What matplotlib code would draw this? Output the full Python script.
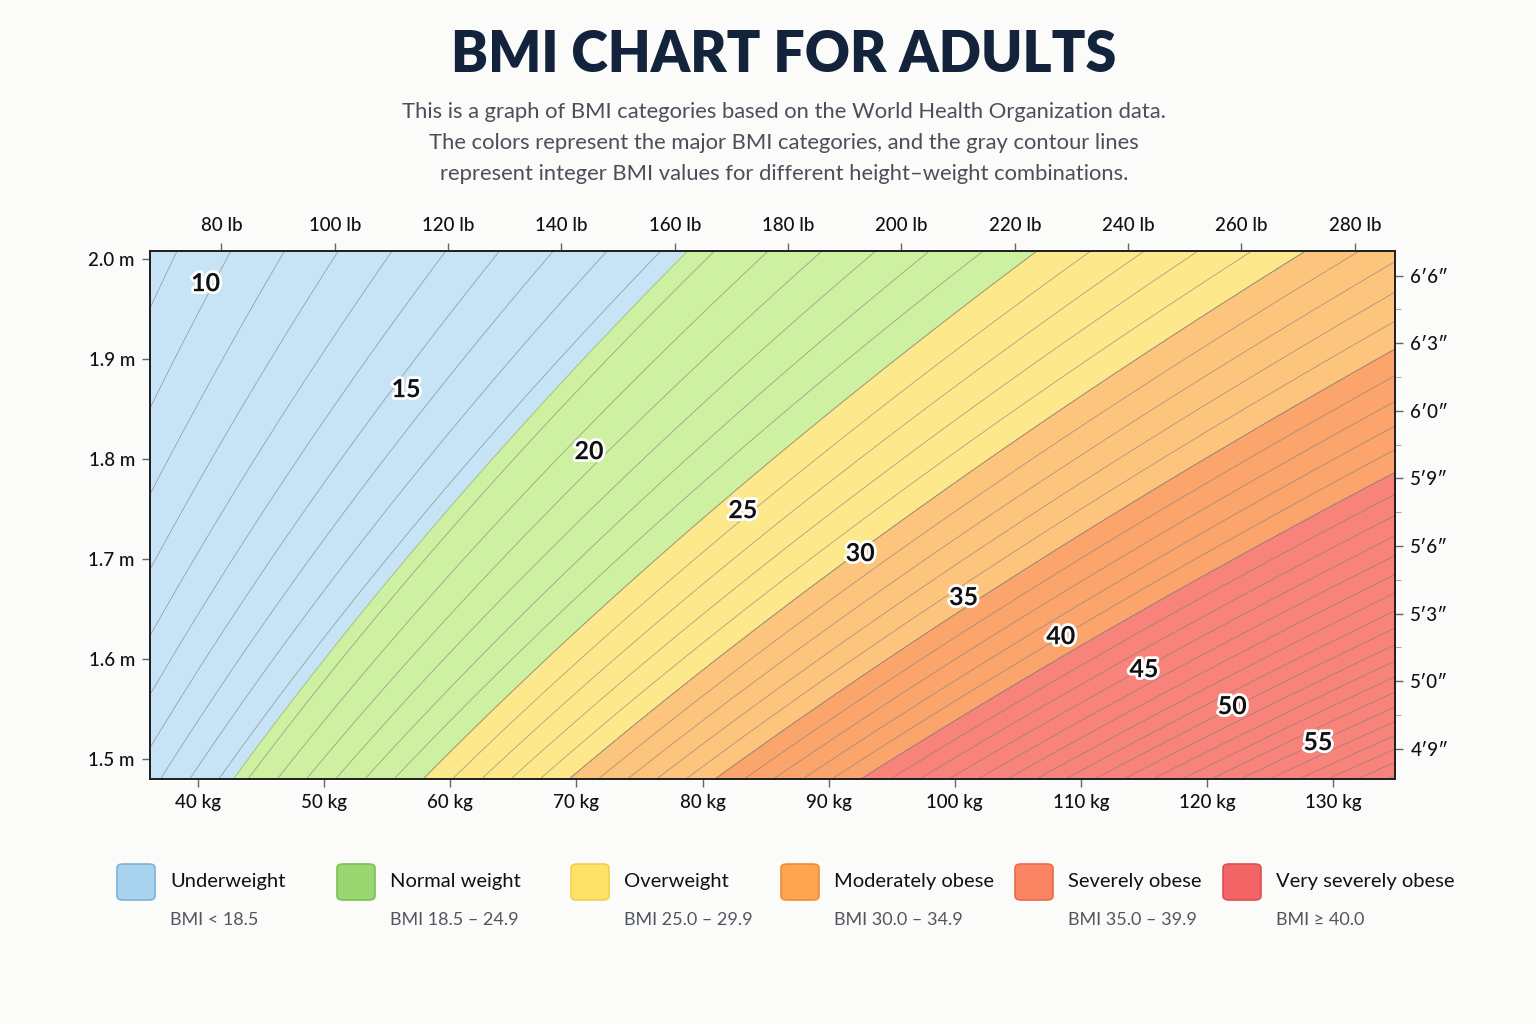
import numpy as np
import matplotlib
matplotlib.use("Agg")
import matplotlib.pyplot as plt
import matplotlib.patheffects as pe
from matplotlib.patches import FancyBboxPatch
from matplotlib.ticker import MultipleLocator

plt.rcParams['font.family'] = ['Lato', 'DejaVu Sans']

# categories (WHO) and colours
cat_names = ["Underweight", "Normal weight", "Overweight", "Moderately obese",
             "Severely obese", "Very severely obese"]
cat_ranges = ["BMI < 18.5", "BMI 18.5 – 24.9", "BMI 25.0 – 29.9", "BMI 30.0 – 34.9",
              "BMI 35.0 – 39.9", "BMI ≥ 40.0"]
cat_bounds = [0, 18.5, 25, 30, 35, 40, 200]
fill_colors = ["#c6e4f6", "#cdf1a1", "#fde98b", "#fdc47e", "#fba56d", "#f8837a"]
swatch_colors = ["#a9d2f0", "#9bd770", "#fee267", "#fda54f", "#fb8462", "#f26466"]
swatch_edges = ["#7fb2d9", "#7bbf55", "#f3cf4c", "#ef8c38", "#e86c4e", "#dd5052"]

# axis ranges
kg_range = (36.2, 134.9)
m_range = (1.48, 2.008)
lb_range = (67.4, 287.1)
inch_range = (55.67, 79.11)
kg_ticks = list(range(40, 131, 10))
m_ticks = [1.5, 1.6, 1.7, 1.8, 1.9, 2.0]
lb_ticks = list(range(80, 281, 20))
inch_ticks = list(range(57, 79, 3))

# in the picture the category edges sit about 6% heavier than w/h^2 gives
chart_scale = 1.057

# labelled contour values and where they sit
label_values = [10, 15, 20, 25, 30, 35, 40, 45, 50, 55]
label_kg = [40.6, 56.5, 71.0, 83.2, 92.5, 100.7, 108.4, 115.0, 122.0, 128.8]
label_m = [1.975, 1.869, 1.807, 1.748, 1.705, 1.661, 1.622, 1.589, 1.552, 1.516]

fig = plt.figure(figsize=(15.36, 10.24), dpi=100, facecolor="#fbfbfa")
ax = fig.add_axes([0.0977, 0.2396, 0.9082 - 0.0977, 0.7552 - 0.2396])

w = np.linspace(kg_range[0], kg_range[1], 700)
h = np.linspace(m_range[0], m_range[1], 500)
W, H = np.meshgrid(w, h)
bmi = W / (chart_scale * H**2)

ax.contourf(W, H, bmi, levels=cat_bounds, colors=fill_colors)
ax.contour(W, H, bmi, levels=np.arange(5, 70), colors="#7c7c7c", linewidths=0.55, alpha=0.7)
ax.contour(W, H, bmi, levels=cat_bounds[1:-1], colors="#8a8a7a", linewidths=0.7, alpha=0.5)

for v, x, y in zip(label_values, label_kg, label_m):
    ax.text(x, y, str(v), ha="center", va="center", fontsize=18, fontweight="bold",
            color="#111111", path_effects=[pe.withStroke(linewidth=4, foreground="white")])

tick_style = dict(labelsize=13.5, colors="#666666", labelcolor="#111111", length=6, width=1)

ax.set_xlim(*kg_range)
ax.set_ylim(*m_range)
ax.set_xticks(kg_ticks)
ax.set_xticklabels([f"{k} kg" for k in kg_ticks], fontweight="medium")
ax.set_yticks(m_ticks)
ax.set_yticklabels([f"{m:.1f} m" for m in m_ticks], fontweight="medium")
ax.tick_params(axis="x", pad=5, **tick_style)
ax.tick_params(axis="y", pad=5, **tick_style)

for s in ax.spines.values():
    s.set_color("#222222")
    s.set_linewidth(1.2)

ax_top = ax.twiny()
ax_top.set_xlim(*lb_range)
ax_top.set_xticks(lb_ticks)
ax_top.set_xticklabels([f"{l} lb" for l in lb_ticks], fontweight="medium")
ax_top.tick_params(pad=6, **tick_style)

ax_right = ax.twinx()
ax_right.set_ylim(*inch_range)
ax_right.set_yticks(inch_ticks)
ax_right.set_yticklabels([f"{i // 12}′{i % 12}″" for i in inch_ticks], fontweight="medium")
ax_right.yaxis.set_minor_locator(MultipleLocator(1.5))
ax_right.tick_params(pad=5, **tick_style)
ax_right.tick_params(which="minor", length=4, colors="#999999")
for a in (ax_top, ax_right):
    for s in a.spines.values():
        s.set_color("#222222")
        s.set_linewidth(1.2)

# title block
fig.text(0.5104, 0.946, "BMI CHART FOR ADULTS", ha="center", va="center",
         fontsize=40, fontweight="heavy", color="#13233b")
subtitle = ["This is a graph of BMI categories based on the World Health Organization data.",
            "The colors represent the major BMI categories, and the gray contour lines",
            "represent integer BMI values for different height–weight combinations."]
for i, line in enumerate(subtitle):
    fig.text(0.5104, 1 - (112 + 31 * i) / 1024, line, ha="center", va="center",
             fontsize=15.8, color="#4a4f5a")

# legend
leg_x = [117, 337, 571, 781, 1015, 1223]
for i in range(len(cat_names)):
    x0 = leg_x[i] / 1536
    box = FancyBboxPatch((x0, 1 - 900 / 1024), 38 / 1536, 36 / 1024,
                         boxstyle="round,pad=0,rounding_size=0.004",
                         transform=fig.transFigure, facecolor=swatch_colors[i],
                         edgecolor=swatch_edges[i], linewidth=1.2)
    fig.add_artist(box)
    fig.text(x0 + 53 / 1536, 1 - 882 / 1024, cat_names[i], ha="left", va="center",
             fontsize=14.5, color="#111111")
    fig.text(x0 + 53 / 1536, 1 - 920 / 1024, cat_ranges[i], ha="left", va="center",
             fontsize=13, color="#505560")

fig.savefig("out.png", dpi=100, facecolor=fig.get_facecolor())
